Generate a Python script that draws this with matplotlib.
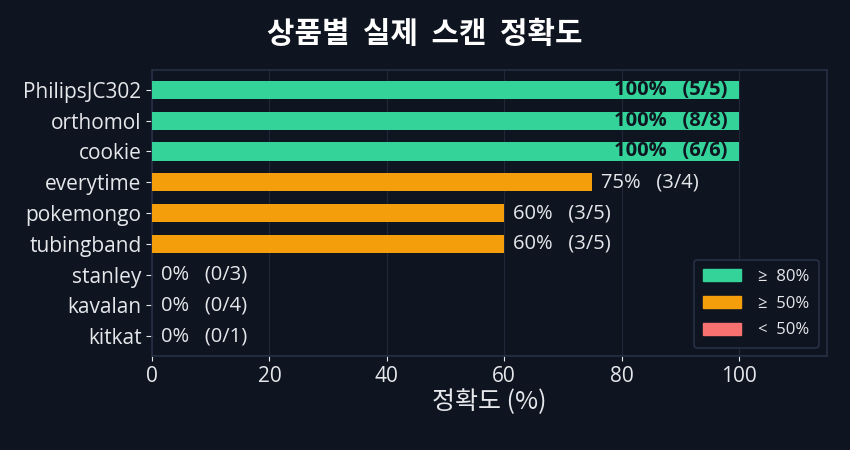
import matplotlib
matplotlib.use("Agg")
import matplotlib.pyplot as plt
from matplotlib.patches import Patch

plt.rcParams['font.family'] = ['Open Sans', 'Noto Sans CJK KR', 'DejaVu Sans']

products = ["PhilipsJC302", "orthomol", "cookie", "everytime", "pokemongo",
            "tubingband", "stanley", "kavalan", "kitkat"]
correct = [5, 8, 6, 3, 3, 3, 0, 0, 0]
total = [5, 8, 6, 4, 5, 5, 3, 4, 1]
accuracy = [100, 100, 100, 75, 60, 60, 0, 0, 0]

BG = "#0f1520"
FG = "#e5e7eb"
GREEN = "#34d399"
ORANGE = "#f59e0b"
RED = "#f87171"
SPINE = "#273044"
KR = ['Noto Sans CJK KR', 'DejaVu Sans']

def color_for(v):
    if v >= 80:
        return GREEN
    if v >= 50:
        return ORANGE
    return RED

fig = plt.figure(figsize=(8.5, 4.5), dpi=100, facecolor=BG)
ax = fig.add_axes([152/850, 1 - 356/450, (827-152)/850, (356-70)/450])
ax.set_facecolor(BG)

y = list(range(len(products)))[::-1]
ax.barh(y, accuracy, height=0.6, color=[color_for(v) for v in accuracy], zorder=3)

for yi, v, c, t in zip(y, accuracy, correct, total):
    label = f"{v:.0f}%   ({c}/{t})"
    if v >= 90:
        ax.text(v - 2, yi, label, ha="right", va="center", color=BG,
                fontsize=14.5, fontweight="bold", zorder=4)
    else:
        ax.text(v + 1.5, yi, label, ha="left", va="center", color=FG,
                fontsize=14.5, zorder=4)

ax.set_yticks(y)
ax.set_yticklabels(products)
ax.set_xlim(0, 115)
ax.set_ylim(-0.65, len(products) - 0.35)
ax.set_xticks([0, 20, 40, 60, 80, 100])
ax.tick_params(axis="both", colors=FG, labelsize=15)
ax.tick_params(axis="y", length=4)
ax.grid(axis="x", color="#1f2738", linewidth=0.8, zorder=0)
for s in ax.spines.values():
    s.set_color(SPINE)
    s.set_linewidth(1.2)

ax.set_xlabel("정확도 (%)", color=FG, fontsize=18, family=KR, labelpad=2)
fig.text(0.5, 1 - 34/450, "상품별  실제  스캔  정확도", color="white", fontsize=21.5,
         fontweight="bold", ha="center", va="center", family=KR)

handles = [Patch(color=GREEN, label="≥  80%"),
           Patch(color=ORANGE, label="≥  50%"),
           Patch(color=RED, label="<  50%")]
leg = ax.legend(handles=handles, loc="lower right", fontsize=12,
                facecolor=BG, edgecolor=SPINE, labelcolor=FG, framealpha=1,
                handlelength=2.3, handleheight=0.75, labelspacing=0.65,
                borderpad=0.55, handletextpad=1.0)
leg.get_frame().set_linewidth(1.2)

fig.savefig("out.png", dpi=100, facecolor=BG)
